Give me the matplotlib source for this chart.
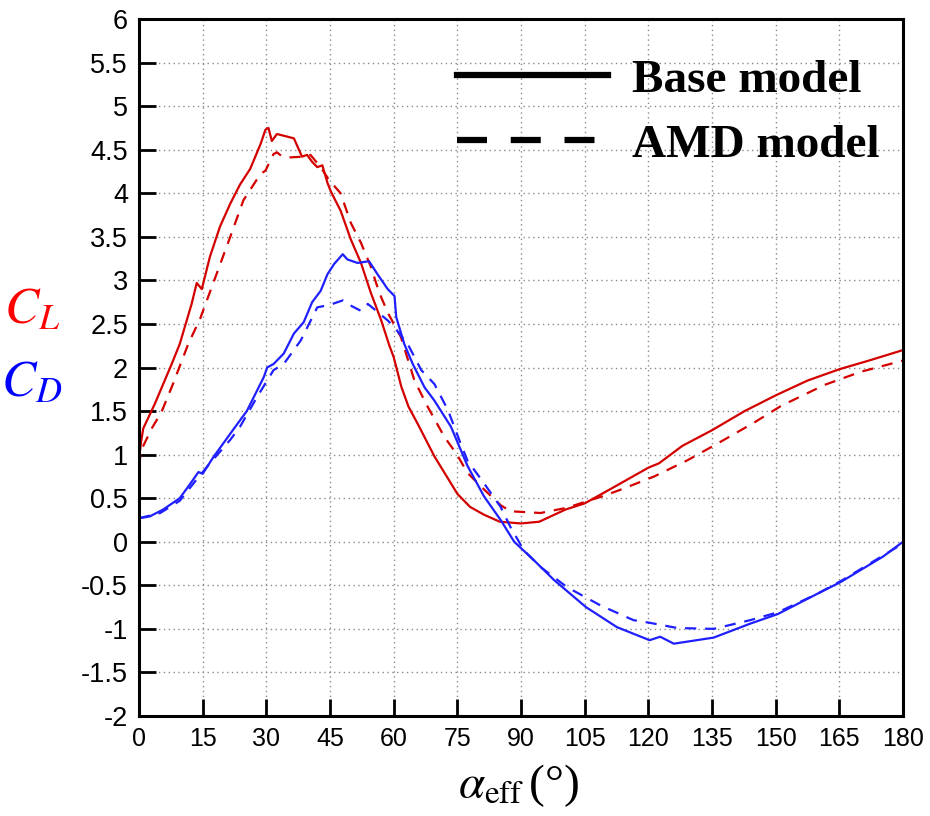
import matplotlib
matplotlib.use("Agg")
import matplotlib.pyplot as plt
from matplotlib.lines import Line2D
from matplotlib.ticker import MultipleLocator, FormatStrFormatter

# ---------------- data ----------------
base_cl_x = [0, 0.5, 1, 3.7, 5.7, 7.7, 9.6, 12.4, 13.6, 14.8, 16.7, 19.1, 21.5, 23.8, 26.2,
             28.6, 29.8, 30.5, 31.3, 32.5, 36.5, 38.4, 39.6, 40.8, 42, 43.2, 44.4, 45.2,
             47.5, 49.9, 52.3, 54.6, 57, 59, 60, 61.8, 63.5, 65.7, 69.6, 73.5, 75, 78,
             81.3, 85, 90, 94.3, 100.5, 105, 112, 120, 122.5, 128, 135, 142.7, 150,
             157.5, 165, 172, 180]
base_cl_y = [0.95, 1.15, 1.3, 1.58, 1.81, 2.04, 2.27, 2.73, 2.97, 2.9, 3.27, 3.62, 3.88, 4.1, 4.28,
             4.56, 4.73, 4.75, 4.6, 4.68, 4.63, 4.42, 4.44, 4.36, 4.3, 4.32, 4.12, 4.02,
             3.8, 3.47, 3.2, 2.86, 2.55, 2.25, 2.12, 1.78, 1.55, 1.35, 0.98, 0.67, 0.55, 0.4,
             0.31, 0.23, 0.21, 0.23, 0.37, 0.44, 0.63, 0.85, 0.9, 1.1, 1.28, 1.5, 1.68,
             1.85, 1.98, 2.08, 2.2]

amd_cl_x = [0, 0.5, 3, 5.3, 8, 11.6, 14.4, 17.5, 21.5, 24.6, 28.6, 29.8, 31.7, 32.5, 33.5,
            34.9, 38.8, 40.4, 42.8, 44.8, 47.5, 49.9, 52.3, 54.6, 56.6, 58.6, 61.7, 64.9,
            68, 72, 74.8, 77.4, 81.3, 85.2, 87.5, 94.6, 100.8, 109.7, 113.6, 121.4, 129.4,
            136.4, 145, 151.3, 161.5, 170, 180]
amd_cl_y = [0.87, 1.05, 1.3, 1.49, 1.81, 2.27, 2.56, 2.97, 3.5, 3.92, 4.22, 4.26, 4.45, 4.47, 4.43,
            4.41, 4.42, 4.44, 4.3, 4.15, 4.0, 3.66, 3.43, 3.16, 2.86, 2.63, 2.35, 1.85,
            1.55, 1.2, 1.01, 0.79, 0.6, 0.42, 0.35, 0.33, 0.39, 0.53, 0.6, 0.75, 0.94,
            1.13, 1.37, 1.56, 1.8, 1.95, 2.08]

base_cd_x = [0, 2.5, 5.7, 9.6, 12, 14, 15, 17.5, 21.5, 25.4, 29.4, 30.2, 31.7, 34.1, 36.5,
             38.8, 40.8, 42.8, 44.4, 46, 48, 49.1, 51.5, 54.2, 56.2, 58.6, 60.2, 60.6, 62.5,
             64.5, 67.3, 69.6, 73.5, 77.4, 81.3, 85.2, 88.4, 93, 97.8, 105.3, 112.6, 120.3,
             122.8, 126, 135.4, 144, 150.5, 159.7, 165.4, 175.3, 180]
base_cd_y = [0.27, 0.29, 0.37, 0.5, 0.66, 0.8, 0.78, 0.97, 1.24, 1.5, 1.89, 2.0, 2.04, 2.16, 2.39,
             2.52, 2.75, 2.88, 3.07, 3.19, 3.3, 3.24, 3.2, 3.22, 3.07, 2.9, 2.82, 2.58, 2.27,
             2.04, 1.77, 1.62, 1.32, 0.87, 0.52, 0.25, 0.0, -0.21, -0.44, -0.75, -0.98, -1.13,
             -1.09, -1.17, -1.1, -0.94, -0.83, -0.6, -0.46, -0.17, 0.0]

amd_cd_x = [0, 5, 9.6, 13, 16.7, 21.5, 23.8, 27.8, 31.7, 34.1, 38.1, 42, 45, 48, 49.1, 52.3,
            53.9, 55.4, 58.6, 60.2, 63.3, 66.5, 69.6, 72.8, 75.6, 77.4, 81.3, 85.2, 87.5,
            90.7, 94.6, 100.8, 108.7, 116.5, 120.3, 126.8, 135.4, 144, 150.5, 159.7, 165.4, 180]
amd_cd_y = [0.27, 0.33, 0.47, 0.68, 0.9, 1.17, 1.32, 1.66, 1.97, 2.04, 2.31, 2.69, 2.72, 2.77, 2.73, 2.65,
            2.73, 2.67, 2.54, 2.46, 2.27, 1.97, 1.81, 1.51, 1.15, 0.93, 0.67, 0.4, 0.17,
            -0.1, -0.29, -0.52, -0.73, -0.9, -0.93, -0.99, -1.0, -0.9, -0.81, -0.6, -0.45, -0.02]

x_ticks = list(range(0, 181, 15))
legend_labels = ["Base model", "AMD model"]

# ---------------- style ----------------
plt.rcParams["axes.unicode_minus"] = False
plt.rcParams["mathtext.fontset"] = "stix"
plt.rcParams["font.family"] = ["Liberation Sans", "DejaVu Sans"]

RED = "#d40000"
BLUE = "#1f1fff"

fig = plt.figure(figsize=(9.3, 8.16), dpi=100)
ax = fig.add_axes([139 / 930, 1 - 716 / 816, 764 / 930, 697 / 816])

lw = 1.6
dash = (5, 4)
ax.plot(base_cl_x, base_cl_y, color=RED, lw=lw, solid_joinstyle="round")
ax.plot(amd_cl_x, amd_cl_y, color=RED, lw=lw, dashes=dash)
ax.plot(base_cd_x, base_cd_y, color=BLUE, lw=lw, solid_joinstyle="round")
ax.plot(amd_cd_x, amd_cd_y, color=BLUE, lw=lw, dashes=dash)

ax.set_xlim(0, 180)
ax.set_ylim(-2, 6)
ax.set_xticks(x_ticks)
ax.yaxis.set_major_locator(MultipleLocator(0.5))
ax.yaxis.set_major_formatter(FormatStrFormatter("%g"))

ax.grid(True, which="major", linestyle=(0, (1, 2.5)), color="#8a8a8a", lw=1.0)
ax.set_axisbelow(True)

for s in ax.spines.values():
    s.set_linewidth(2.2)
ax.tick_params(axis="both", direction="in", length=12, width=2.0,
               top=False, right=False)
ax.tick_params(axis="y", pad=8, labelsize=19.5)
ax.tick_params(axis="x", pad=8, labelsize=18)

# legend
h1 = Line2D([], [], color="black", lw=4.5)
h2 = Line2D([], [], color="black", lw=4.5, dashes=(4.8, 3.8))
leg = ax.legend([h1, h2], legend_labels, loc="upper right",
                bbox_to_anchor=(1.006, 0.984), frameon=False,
                handlelength=3.2, handletextpad=0.5, labelspacing=0.47,
                borderaxespad=0.2,
                prop={"family": "Liberation Serif", "weight": "bold", "size": 34})

# axis labels
fig.text(32 / 930, 1 - 310 / 816, r"$C_L$", color="#ff0000", fontsize=37,
         ha="center", va="center")
fig.text(32 / 930, 1 - 383 / 816, r"$C_D$", color="#0000ff", fontsize=37,
         ha="center", va="center")
fig.text(518 / 930, 1 - 786 / 816, r"$\alpha_{\mathrm{eff}}\,$(°)", fontsize=34,
         family="Liberation Serif", ha="center", va="center")

fig.savefig("out.png", dpi=100)
